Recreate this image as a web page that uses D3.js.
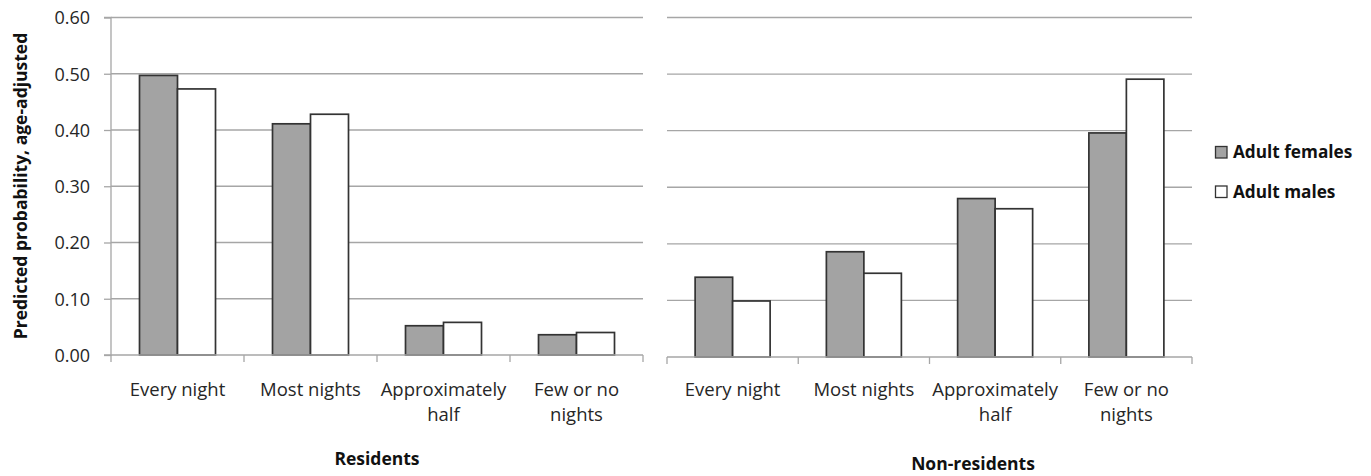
<!DOCTYPE html>
<html><head><meta charset="utf-8">
<script src="https://cdn.jsdelivr.net/npm/d3@7"></script>
<style>body{margin:0;background:#fff}svg{display:block}text{font-family:"Open Sans",Lato,sans-serif}</style>
</head><body>
<svg id="c" width="1371" height="476"></svg>
<script>
const categories = ["Every night", "Most nights", "Approximately half", "Few or no nights"];
const categoryLines = [["Every night"], ["Most nights"], ["Approximately", "half"], ["Few or no", "nights"]];
const seriesNames = ["Adult females", "Adult males"];
const residentsFemales = [0.497, 0.411, 0.052, 0.036];
const residentsMales = [0.473, 0.428, 0.058, 0.040];
const nonResidentsFemales = [0.141, 0.186, 0.280, 0.396];
const nonResidentsMales = [0.099, 0.148, 0.262, 0.491];
const yTicks = [0, 0.1, 0.2, 0.3, 0.4, 0.5, 0.6];
const panelTitles = ["Residents", "Non-residents"];

const svg = d3.select("#c");
const colors = {"Adult females": "#a3a3a3", "Adult males": "#ffffff"};
const gridColor = "#a6a6a6";
const textColor = "#262626";

const panels = [
  {x0: 111, x1: 643, yBottom: 355, yTop: 17.5, fem: residentsFemales, mal: residentsMales, title: panelTitles[0], titleX: 377, titleY: 465, axisLine: true},
  {x0: 667, x1: 1192, yBottom: 357, yTop: 17.5, fem: nonResidentsFemales, mal: nonResidentsMales, title: panelTitles[1], titleX: 973, titleY: 470, axisLine: false}
];

panels.forEach((p, pi) => {
  const g = svg.append("g");
  const y = d3.scaleLinear().domain([0, 0.6]).range([p.yBottom, p.yTop]);
  const x = d3.scaleBand().domain(categories).range([p.x0, p.x1]).paddingInner(0).paddingOuter(0);
  const inner = d3.scaleBand().domain(seriesNames).range([0, x.bandwidth()]).paddingInner(0).paddingOuter(0.75);

  g.selectAll("line.grid").data(yTicks.filter(t => t > 0)).join("line")
    .attr("x1", p.x0).attr("x2", p.x1)
    .attr("y1", d => y(d)).attr("y2", d => y(d))
    .attr("stroke", gridColor).attr("stroke-width", 1.3);

  if (p.axisLine) {
    const ax = d3.axisLeft(y).tickValues(yTicks).tickFormat(d3.format(".2f")).tickSize(7).tickPadding(14);
    const ag = g.append("g").attr("transform", `translate(${p.x0},0)`).call(ax);
    ag.select(".domain").attr("stroke", gridColor).attr("stroke-width", 1.3).attr("d", `M-7,${p.yBottom}H0V${p.yTop}H-7`);
    ag.selectAll(".tick line").attr("stroke", gridColor).attr("stroke-width", 1.3);
    ag.selectAll(".tick text").attr("font-size", 18).attr("fill", textColor)
      .attr("font-family", "'Open Sans', sans-serif").attr("dy", "0.36em");
  }

  const data = [];
  categories.forEach((c, i) => {
    data.push({c, s: seriesNames[0], v: p.fem[i]});
    data.push({c, s: seriesNames[1], v: p.mal[i]});
  });
  g.selectAll("rect.bar").data(data).join("rect")
    .attr("x", d => x(d.c) + inner(d.s))
    .attr("width", inner.bandwidth())
    .attr("y", d => y(d.v))
    .attr("height", d => y(0) - y(d.v))
    .attr("fill", d => colors[d.s])
    .attr("stroke", "#333333").attr("stroke-width", 1.7);

  g.append("line").attr("x1", p.x0).attr("x2", p.x1).attr("y1", y(0)).attr("y2", y(0))
    .attr("stroke", gridColor).attr("stroke-width", 1.3);
  const tickXs = [p.x0].concat(categories.map(c => x(c) + x.bandwidth()));
  g.selectAll("line.xt").data(tickXs).join("line")
    .attr("x1", d => d).attr("x2", d => d).attr("y1", y(0)).attr("y2", y(0) + 7)
    .attr("stroke", gridColor).attr("stroke-width", 1.3);

  categories.forEach((c, i) => {
    const cx = x(c) + x.bandwidth() / 2;
    const t = g.append("text").attr("text-anchor", "middle")
      .attr("font-size", 18.5).attr("fill", textColor);
    categoryLines[i].forEach((ln, k) => {
      t.append("tspan").attr("x", cx).attr("y", 396 + k * 25).text(ln);
    });
  });

  g.append("text").attr("x", p.titleX).attr("y", p.titleY).attr("text-anchor", "middle")
    .attr("font-size", 17.5).attr("font-weight", "bold").attr("fill", "#111").text(p.title);
});

svg.append("text").attr("transform", "translate(27,186) rotate(-90)").attr("text-anchor", "middle")
  .attr("font-size", 17.5).attr("font-weight", "bold").attr("fill", "#111")
  .text("Predicted probability, age-adjusted");

const leg = svg.append("g");
seriesNames.forEach((s, i) => {
  const yy = 146.5 + i * 39.5;
  leg.append("rect").attr("x", 1215.5).attr("y", yy).attr("width", 11.5).attr("height", 11.5)
    .attr("fill", colors[s]).attr("stroke", "#333333").attr("stroke-width", 1.3);
  leg.append("text").attr("x", 1233).attr("y", yy + 11.5).attr("font-size", 17.2).attr("font-weight", "bold")
    .attr("fill", "#111").text(s);
});
</script>
</body></html>
